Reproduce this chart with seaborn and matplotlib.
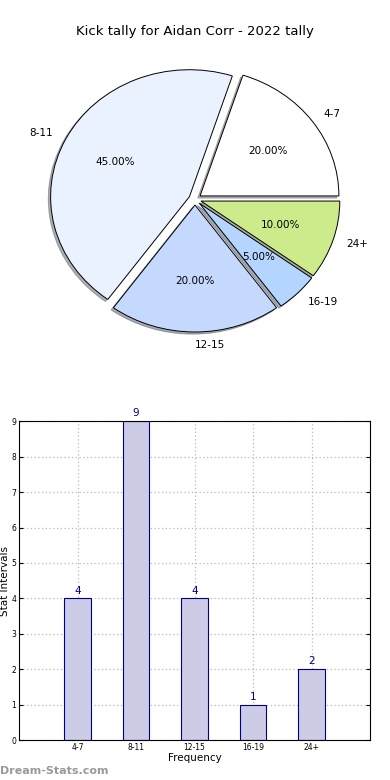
import seaborn as sns
import pandas as pd
import matplotlib.pyplot as plt

# data
intervals = ['4-7', '8-11', '12-15', '16-19', '24+']
counts = [4, 9, 4, 1, 2]
pie_colors = ['#FFFFFF', '#EAF1FF', '#C5D9FF', '#B3D5FF', '#CDEB8B']
title = 'Kick tally for Aidan Corr - 2022 tally'


def draw_chart():
    sns.set_style('white')
    plt.rcParams['font.family'] = ['DejaVu Sans']
    plt.rcParams['text.color'] = 'black'
    plt.rcParams['axes.labelcolor'] = 'black'
    plt.rcParams['xtick.color'] = 'black'
    plt.rcParams['ytick.color'] = 'black'
    fig = plt.figure(figsize=(3.9, 7.8), dpi=100)

    # pie
    ax1 = fig.add_axes([0.055, 0.541, 0.89, 0.407])
    ax1.pie(counts, labels=intervals, colors=pie_colors, autopct='%.2f%%',
            explode=[0.045] * len(counts),
            shadow={'ox': -0.012, 'oy': -0.012, 'shade': 0.6},
            startangle=0, counterclock=True, labeldistance=1.1,
            pctdistance=0.6,
            wedgeprops={'edgecolor': 'black', 'linewidth': 0.7},
            textprops={'fontsize': 7.5, 'color': 'black'})
    ax1.set_aspect('auto')
    ax1.set_xlim(-1.25, 1.25)
    ax1.set_ylim(-1.25, 1.25)
    ax1.set_title(title, fontsize=9.5, pad=4, color='black')

    # bar
    ax2 = fig.add_axes([0.049, 0.051, 0.9, 0.409])
    df = pd.DataFrame({'interval': intervals, 'count': counts})
    sns.barplot(data=df, x='interval', y='count', color='#CCCCE6',
                edgecolor='navy', linewidth=0.8, width=0.45, saturation=1,
                ax=ax2)
    for i, v in enumerate(counts):
        ax2.text(i, v + 0.08, str(v), ha='center', va='bottom',
                 color='navy', fontsize=7.5)
    ax2.set_xlim(-1, 5)
    ax2.set_ylim(0, 9)
    ax2.set_yticks(range(10))
    ax2.grid(True, linestyle=(0, (1, 2)), color='#BBBBBB', linewidth=0.9)
    ax2.set_axisbelow(True)
    ax2.tick_params(axis='both', labelsize=5.5, direction='in', length=3,
                    right=True, top=False, left=True, bottom=True, pad=2)
    for s in ax2.spines.values():
        s.set_color('black')
        s.set_linewidth(0.8)
    ax2.set_xlabel('Frequency', fontsize=7.5, labelpad=1)
    ax2.set_ylabel('Stat Intervals', fontsize=7.5, labelpad=1)

    fig.text(0.0, 0.005, 'Dream-Stats.com', color='#999999', fontsize=8,
             fontweight='bold', ha='left', va='bottom')
    fig.savefig('out.png', dpi=100)


if __name__ == '__main__':
    draw_chart()
